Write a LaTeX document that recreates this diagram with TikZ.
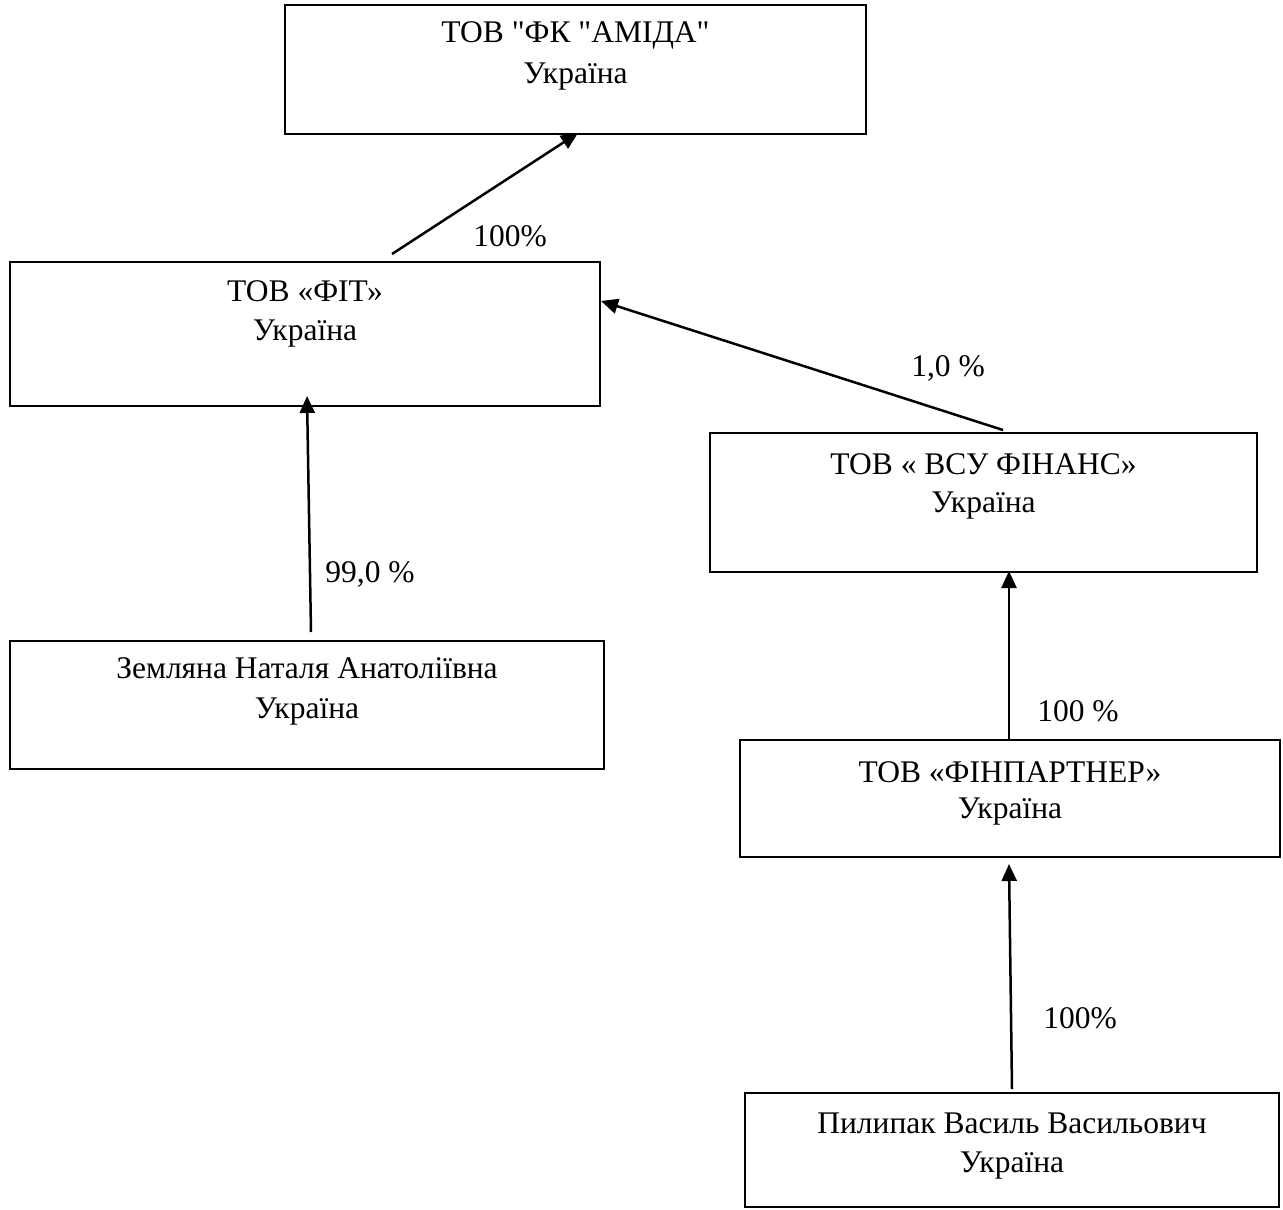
\documentclass[tikz,border=0pt]{standalone}
\usepackage{fontspec}
\newfontfamily\rf{Liberation Serif}
\usetikzlibrary{arrows.meta}
\tikzset{
  box/.style={draw, line width=2pt, rectangle, inner sep=0pt},
  txt/.style={font=\rf\fontsize{31.5}{36}\selectfont, anchor=base, inner sep=0pt},
  pct/.style={font=\rf\fontsize{31.5}{36}\selectfont, inner sep=0pt},
  link/.style={line width=2.5pt, -{Triangle[length=17pt,width=15pt]}},
}
\begin{document}
\begin{tikzpicture}[x=1pt,y=-1pt]
\useasboundingbox (0,0) rectangle (1283,1210);
% boxes
\node[box, minimum width=581pt, minimum height=129pt] (A) at (575.5,69.5) {};
\node[box, minimum width=590pt, minimum height=144pt] (F) at (305,334) {};
\node[box, minimum width=547pt, minimum height=139pt] (V) at (983.5,502.5) {};
\node[box, minimum width=594pt, minimum height=128pt] (Z) at (307,705) {};
\node[box, minimum width=540pt, minimum height=117pt] (P) at (1010,798.5) {};
\node[box, minimum width=534pt, minimum height=114pt] (W) at (1012,1150) {};
% texts
\node[txt] (A1) at (575.5,42) {ТОВ "ФК "АМІДА"};
\node[txt] (A2) at (575.5,83) {Україна};
\node[txt] (F1) at (305,301) {ТОВ «ФІТ»};
\node[txt] (F2) at (305,340) {Україна};
\node[txt] (V1) at (983.5,474) {ТОВ « ВСУ ФІНАНС»};
\node[txt] (V2) at (983.5,512) {Україна};
\node[txt] (Z1) at (307,678) {Земляна Наталя Анатоліївна};
\node[txt] (Z2) at (307,718) {Україна};
\node[txt] (P1) at (1010,782) {ТОВ «ФІНПАРТНЕР»};
\node[txt] (P2) at (1010,818) {Україна};
\node[txt] (W1) at (1012,1133) {Пилипак Василь Васильович};
\node[txt] (W2) at (1012,1172) {Україна};
% connectors
\draw[link] ([xshift=383pt,yshift=7pt]F.north west) -- ([xshift=294pt,yshift=2pt]A.south west);
\draw[link] ([xshift=294pt,yshift=2pt]V.north west) -- ([yshift=-40pt]F.north east);
\draw[link] ([xshift=302pt,yshift=8pt]Z.north west) -- ([xshift=298pt,yshift=11pt]F.south west);
\draw[link] ([xshift=270pt]P.north west) -- ([xshift=300pt,yshift=2pt]V.south west);
\draw[link] ([xshift=268pt,yshift=3pt]W.north west) -- ([xshift=270pt,yshift=-6pt]P.south west);
% labels
\node[pct] (l1) at (510,236) {100\%};
\node[pct] (l2) at (948,368) {1,0 \%};
\node[pct] (l3) at (370,574) {99,0 \%};
\node[pct] (l4) at (1078,711) {100 \%};
\node[pct] (l5) at (1080,1018) {100\%};
\end{tikzpicture}
\end{document}
